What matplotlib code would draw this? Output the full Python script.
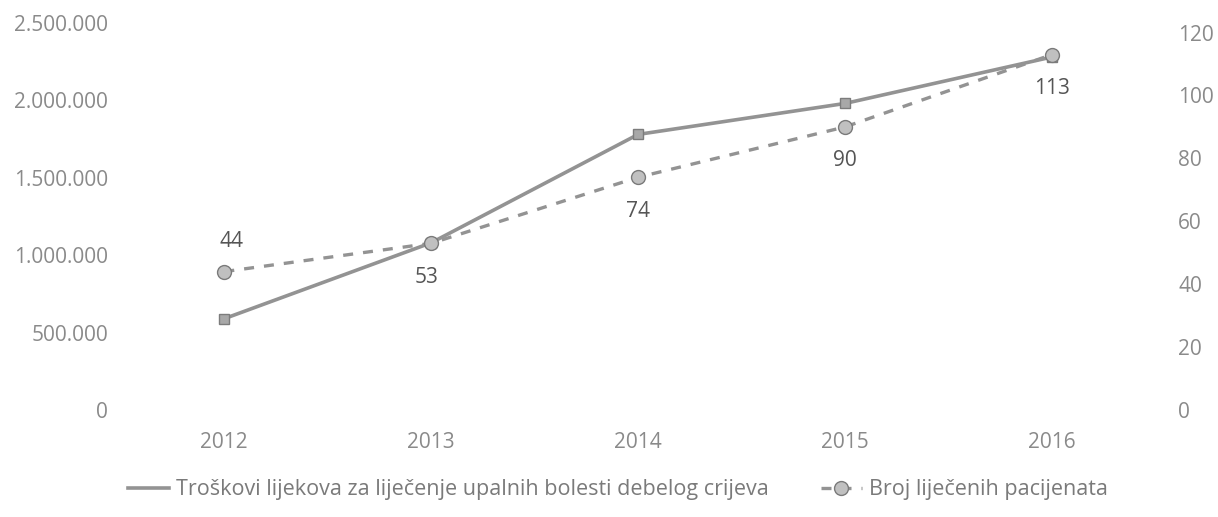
import matplotlib
matplotlib.use("Agg")
import matplotlib.pyplot as plt
from matplotlib.ticker import FuncFormatter
from matplotlib.lines import Line2D

years = ["2012", "2013", "2014", "2015", "2016"]
costs = [590000, 1080000, 1780000, 1980000, 2280000]
patients = [44, 53, 74, 90, 113]
left_ticks = [0, 500000, 1000000, 1500000, 2000000, 2500000]
right_ticks = [0, 20, 40, 60, 80, 100, 120]
cost_label = "Troškovi lijekova za liječenje upalnih bolesti debelog crijeva"
patient_label = "Broj liječenih pacijenata"

plt.rcParams['font.family'] = ['Open Sans', 'DejaVu Sans']

W, H = 1218, 517
fig = plt.figure(figsize=(W / 100, H / 100), dpi=100)
ax = fig.add_axes([125 / W, 1 - 410 / H, (1145 - 125) / W, (410 - 20) / H])
ax2 = ax.twinx()

x = list(range(len(years)))
line_col = "#939393"
text_col = "#8a8a8a"

ax.plot(x, costs, color=line_col, lw=2.6, marker="s", ms=7,
        mfc="#a8a8a8", mec="#7c7c7c", zorder=3)
ax2.plot(x, patients, color=line_col, lw=2.4, ls=(0, (3, 3)), marker="o", ms=10,
         mfc="#c0c0c0", mec="#7a7a7a", zorder=3)

ax.set_ylim(0, 2519000)
ax2.set_ylim(0, 124)
ax.set_xlim(-0.48, 4.45)
ax.set_yticks(left_ticks)
ax2.set_yticks(right_ticks)
ax.yaxis.set_major_formatter(FuncFormatter(lambda v, p: f"{int(v):,}".replace(",", ".")))
ax.set_xticks(x)
ax.set_xticklabels(years)

for a in (ax, ax2):
    for s in a.spines.values():
        s.set_visible(False)
    a.tick_params(length=0, labelsize=15, labelcolor=text_col)
ax.tick_params(axis="y", pad=12)
ax2.tick_params(axis="y", pad=24)
ax.tick_params(axis="x", pad=16)

offsets = [(5, 21.5), (-3, -24.5), (0, -24.5), (0, -24.5), (0, -24.5)]
for xi, v, (dx, dy) in zip(x, patients, offsets):
    ax2.annotate(str(v), (xi, v), xytext=(dx, dy), textcoords="offset points",
                 ha="center", va="center", fontsize=15, color="#555555")

h1 = Line2D([], [], color=line_col, lw=2.6)
h2 = Line2D([], [], color=line_col, lw=2.4, ls=(0, (3, 3)), marker="o", ms=10,
            mfc="#c0c0c0", mec="#7a7a7a")
leg = fig.legend([h1, h2], [cost_label, patient_label], loc="center",
                 bbox_to_anchor=(618 / W, 1 - 490 / H), ncol=2, frameon=False,
                 fontsize=15.5, columnspacing=2.4, handlelength=1.9, handletextpad=0.35)
for t in leg.get_texts():
    t.set_color("#7a7a7a")

fig.savefig("out.png", dpi=100)
